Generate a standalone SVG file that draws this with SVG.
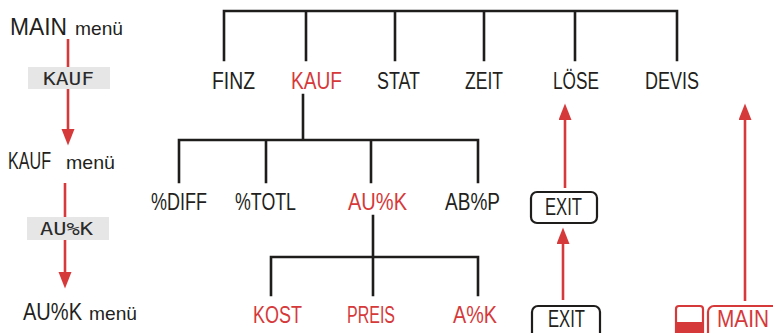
<svg xmlns="http://www.w3.org/2000/svg" width="773" height="333" viewBox="0 0 773 333">
<defs>
<style>
.t{font-family:"Liberation Sans",Arial,sans-serif;font-size:23px;fill:#231f20}
.r{fill:#d6393a}
.m{font-family:"Liberation Sans",Arial,sans-serif;font-size:19px;fill:#231f20}
.lcd{font-family:"DejaVu Sans Mono","Liberation Mono",monospace;font-size:18px;fill:#2a2a2a}
.tree{stroke:#1f1c1c;stroke-width:2.6;fill:none;stroke-linecap:square}
.arr{stroke:#d6393a;stroke-width:2.6;fill:none}
.key{fill:#e6e6e6}
.box{fill:#fff;stroke:#1f1c1c;stroke-width:2.2}
.rbox{fill:#fff;stroke:#d6393a;stroke-width:2.2}
</style>
<marker id="ah" markerUnits="userSpaceOnUse" markerWidth="18" markerHeight="14" refX="1" refY="6.5" orient="auto" viewBox="0 0 18 14">
<path d="M0,0 L16.5,6.5 L0,13 z" fill="#d6393a"/>
</marker>
</defs>
<rect width="773" height="333" fill="#fff"/>

<g id="connectors">
<path class="tree" d="M224,60 V11 H677 V60 M306,11 V60 M395,11 V60 M484,11 V60 M575,11 V60"/>
<path class="tree" d="M303,95 V140 M179,182 V140 H478 V182 M266,140 V182 M371,140 V182"/>
<path class="tree" d="M373,216 V257 M271,295 V257 H478 V295 M373,257 V295"/>
<line class="arr" x1="68" y1="39" x2="68" y2="130" marker-end="url(#ah)"/>
<line class="arr" x1="65" y1="183" x2="65" y2="273" marker-end="url(#ah)"/>
<line class="arr" x1="565" y1="188" x2="565" y2="119" marker-end="url(#ah)"/>
<line class="arr" x1="563" y1="300" x2="563" y2="243" marker-end="url(#ah)"/>
<line class="arr" x1="745" y1="301" x2="745" y2="119" marker-end="url(#ah)"/>
</g>

<g id="main-menu-label">
<text class="t" x="10" y="35" textLength="57" lengthAdjust="spacingAndGlyphs">MAIN</text>
<text class="m" x="75" y="35" textLength="48" lengthAdjust="spacingAndGlyphs">menü</text>
</g>
<g id="key-kauf">
<rect class="key" x="28" y="67" width="82" height="22"/>
<text class="lcd" x="43" y="85" textLength="51" lengthAdjust="spacingAndGlyphs">KAUF</text>
</g>
<g id="kauf-menu-label">
<text class="t" x="8" y="169" textLength="43" lengthAdjust="spacingAndGlyphs">KAUF</text>
<text class="m" x="66" y="169" textLength="49" lengthAdjust="spacingAndGlyphs">menü</text>
</g>
<g id="key-auk">
<rect class="key" x="27" y="217" width="82" height="23"/>
<text class="lcd" x="40" y="235" textLength="53" lengthAdjust="spacingAndGlyphs">AU%K</text>
</g>
<g id="auk-menu-label">
<text class="t" x="23" y="320" textLength="59" lengthAdjust="spacingAndGlyphs">AU%K</text>
<text class="m" x="89" y="320" textLength="48" lengthAdjust="spacingAndGlyphs">menü</text>
</g>

<g id="finz"><text class="t" x="212" y="89" textLength="43" lengthAdjust="spacingAndGlyphs">FINZ</text></g>
<g id="kauf"><text class="t r" x="291" y="89" textLength="51" lengthAdjust="spacingAndGlyphs">KAUF</text></g>
<g id="stat"><text class="t" x="377" y="89" textLength="43" lengthAdjust="spacingAndGlyphs">STAT</text></g>
<g id="zeit"><text class="t" x="465" y="89" textLength="38" lengthAdjust="spacingAndGlyphs">ZEIT</text></g>
<g id="loese"><text class="t" x="553" y="89" textLength="46" lengthAdjust="spacingAndGlyphs">LÖSE</text></g>
<g id="devis"><text class="t" x="645" y="89" textLength="54" lengthAdjust="spacingAndGlyphs">DEVIS</text></g>

<g id="diff"><text class="t" x="151" y="210" textLength="56" lengthAdjust="spacingAndGlyphs">%DIFF</text></g>
<g id="totl"><text class="t" x="235" y="210" textLength="61" lengthAdjust="spacingAndGlyphs">%TOTL</text></g>
<g id="auk"><text class="t r" x="348" y="210" textLength="59" lengthAdjust="spacingAndGlyphs">AU%K</text></g>
<g id="abp"><text class="t" x="445" y="210" textLength="55" lengthAdjust="spacingAndGlyphs">AB%P</text></g>

<g id="kost"><text class="t r" x="253" y="323" textLength="49" lengthAdjust="spacingAndGlyphs">KOST</text></g>
<g id="preis"><text class="t r" x="347" y="323" textLength="48" lengthAdjust="spacingAndGlyphs">PREIS</text></g>
<g id="ak"><text class="t r" x="453" y="323" textLength="44" lengthAdjust="spacingAndGlyphs">A%K</text></g>

<g id="exit1">
<rect class="box" x="531" y="192" width="66" height="31" rx="6"/>
<text class="t" x="545" y="215" font-size="21" textLength="37" lengthAdjust="spacingAndGlyphs">EXIT</text>
</g>
<g id="exit2">
<rect class="box" x="532" y="306" width="68" height="36" rx="6"/>
<text class="t" x="548" y="327" font-size="21" textLength="37" lengthAdjust="spacingAndGlyphs">EXIT</text>
</g>
<g id="shift-key">
<rect class="rbox" x="676" y="306" width="27" height="32" rx="3"/>
<rect class="r" x="676" y="322" width="27" height="16"/>
</g>
<g id="main-key">
<rect class="rbox" x="708" y="306" width="80" height="36" rx="6"/>
<text class="t r" x="717" y="327" font-size="22" textLength="52" lengthAdjust="spacingAndGlyphs">MAIN</text>
</g>
</svg>
